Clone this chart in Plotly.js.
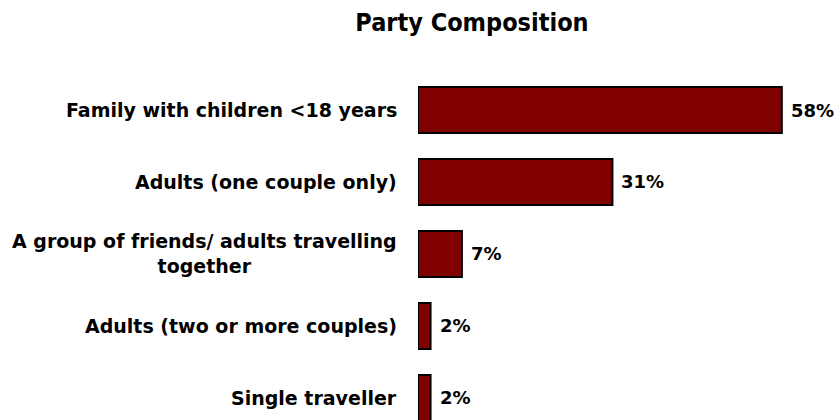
<!DOCTYPE html>
<html>
<head>
<meta charset="utf-8">
<script src="https://cdn.plot.ly/plotly-3.0.1.min.js"></script>
<style>html,body{margin:0;padding:0;background:#fff;}</style>
</head>
<body>
<div id="chart" style="width:835px;height:420px;"></div>
<script>
const categories = [
  "Family with children <18 years",
  "Adults (one couple only)",
  "A group of friends/ adults travelling<br>together",
  "Adults (two or more couples)",
  "Single traveller"
];
const values = [58, 31, 7, 2, 2];
const valueLabels = ["58%", "31%", "7%", "2%", "2%"];

const FONT = "DejaVu Sans";

const trace = {
  type: "bar",
  orientation: "h",
  x: values,
  y: categories.map((c, i) => i),
  marker: { color: "#800000", line: { color: "#000000", width: 2 } },
  width: 0.64,
  hoverinfo: "none",
  cliponaxis: false
};

const annotations = [];
categories.forEach((c, i) => {
  annotations.push({
    xref: "paper", yref: "y", x: 0, y: i,
    text: c, showarrow: false,
    xanchor: "right", yanchor: "middle", align: "center",
    xshift: -19,
    font: { family: FONT, size: 19, color: "#000", weight: "bold" }
  });
  annotations.push({
    xref: "x", yref: "y", x: values[i], y: i,
    text: valueLabels[i], showarrow: false,
    xanchor: "left", yanchor: "middle",
    xshift: 7,
    font: { family: FONT, size: 18, color: "#000", weight: "bold" }
  });
});

const layout = {
  width: 835, height: 420,
  margin: { l: 418, r: 3, t: 74, b: 0, pad: 0 },
  paper_bgcolor: "#ffffff",
  plot_bgcolor: "#ffffff",
  showlegend: false,
  title: {
    text: "Party Composition",
    x: 472 / 835, xanchor: "center", xref: "container",
    y: 1 - 22 / 420, yanchor: "middle", yref: "container",
    font: { family: "DejaVu Sans Condensed, DejaVu Sans", size: 25, color: "#000", weight: "bold" }
  },
  xaxis: {
    range: [0, 66], visible: false, showgrid: false, zeroline: false, fixedrange: true
  },
  yaxis: {
    range: [4.306, -0.5], visible: false, showgrid: false, zeroline: false, fixedrange: true
  },
  annotations: annotations
};

Plotly.newPlot("chart", [trace], layout, { displayModeBar: false, staticPlot: true });
</script>
</body>
</html>
